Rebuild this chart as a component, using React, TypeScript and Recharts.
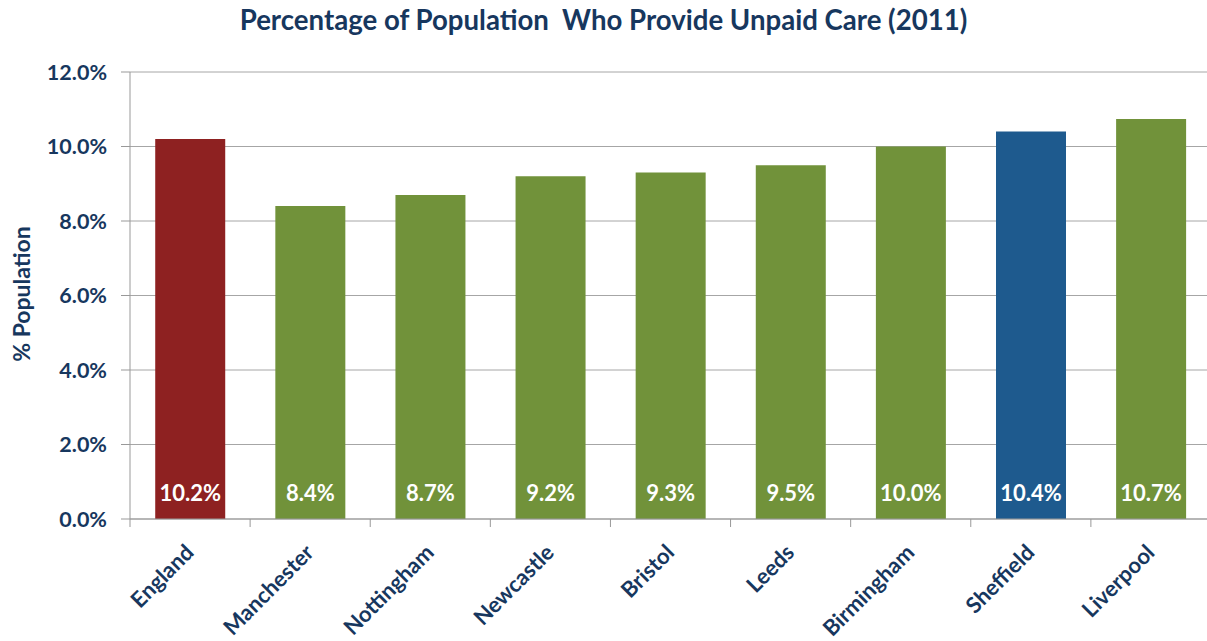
import { Bar, BarChart, CartesianGrid, Cell, LabelList, XAxis, YAxis } from "recharts";

const areas = ["England", "Manchester", "Nottingham", "Newcastle", "Bristol", "Leeds", "Birmingham", "Sheffield", "Liverpool"];
const carePct = [10.2, 8.4, 8.7, 9.2, 9.3, 9.5, 10.0, 10.4, 10.74];
const labels = ["10.2%", "8.4%", "8.7%", "9.2%", "9.3%", "9.5%", "10.0%", "10.4%", "10.7%"];
const barColors = ["#8E2121", "#71923A", "#71923A", "#71923A", "#71923A", "#71923A", "#71923A", "#1E5A8E", "#71923A"];
const yTicks = [0, 2, 4, 6, 8, 10, 12];

const NAVY = "#17375E";
const FONT = "Lato, 'Open Sans', sans-serif";
const W = 1207;
const H = 641;
// plot runs a little past the right edge, as in the cropped original
const CHART_W = 1216;
const PLOT_LEFT = 130;
const PLOT_RIGHT = 1211;
const BAND = (PLOT_RIGHT - PLOT_LEFT) / areas.length;

const data = areas.map((a, i) => ({ area: a, pct: carePct[i], label: labels[i] }));

function AreaTick(props: any) {
  const { x, y, payload } = props;
  const left = x - BAND / 2;
  const ax = x + 5;
  const ay = y + 27;
  return (
    <g>
      <line x1={left} y1={y - 8} x2={left} y2={y} stroke="#999" />
      <text
        x={ax}
        y={ay}
        transform={`rotate(-45 ${ax} ${ay})`}
        textAnchor="end"
        fill={NAVY}
        fontFamily={FONT}
        fontWeight={700}
        fontSize={22}
      >
        {payload.value}
      </text>
    </g>
  );
}

export default function App() {
  return (
    <div
      style={{
        position: "absolute",
        left: 0,
        top: 0,
        width: W,
        height: H,
        overflow: "hidden",
        background: "#fff",
      }}
    >
      <div
        style={{
          position: "absolute",
          left: 0,
          width: W,
          top: 3,
          textAlign: "center",
          color: NAVY,
          fontFamily: FONT,
          fontWeight: 700,
          fontSize: 27.6,
        }}
      >
        Percentage of Population&nbsp; Who Provide Unpaid Care (2011)
      </div>
      <div
        style={{
          position: "absolute",
          left: 21,
          top: 294,
          transform: "translate(-50%, -50%) rotate(-90deg)",
          whiteSpace: "nowrap",
          color: NAVY,
          fontFamily: FONT,
          fontWeight: 700,
          fontSize: 23,
        }}
      >
        % Population
      </div>
      <BarChart
        width={CHART_W}
        height={H}
        data={data}
        margin={{ top: 72, right: CHART_W - PLOT_RIGHT, bottom: 0, left: 0 }}
        barCategoryGap="21%"
      >
        <CartesianGrid stroke="#A6A6A6" vertical={false} />
        <XAxis
          dataKey="area"
          height={H - 519}
          interval={0}
          tickLine={false}
          axisLine={{ stroke: "#999" }}
          tick={<AreaTick />}
        />
        <YAxis
          width={PLOT_LEFT}
          domain={[0, 12]}
          ticks={yTicks}
          tickSize={9}
          tickMargin={14}
          tickLine={{ stroke: "#999" }}
          axisLine={{ stroke: "#999" }}
          tickFormatter={(v: number) => v.toFixed(1) + "%"}
          tick={{ fill: NAVY, fontFamily: FONT, fontWeight: 700, fontSize: 21.5 }}
        />
        <Bar dataKey="pct" isAnimationActive={false}>
          {data.map((d, i) => (
            <Cell key={d.area} fill={barColors[i]} />
          ))}
          <LabelList
            dataKey="label"
            position="insideBottom"
            offset={18}
            fill="#fff"
            fontFamily={FONT}
            fontWeight={700}
            fontSize={22}
          />
        </Bar>
      </BarChart>
    </div>
  );
}
